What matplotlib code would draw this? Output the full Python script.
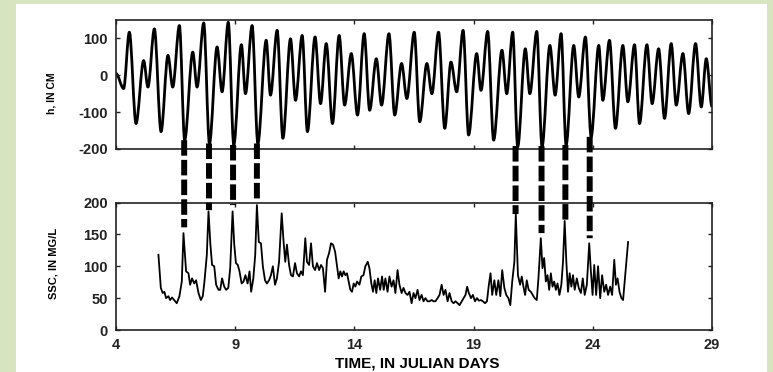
import matplotlib
matplotlib.use('Agg')
import matplotlib.pyplot as plt
from matplotlib.path import Path
from matplotlib.patches import PathPatch, Rectangle, ConnectionPatch

# Tidal height h (cm): successive high / low waters
tide_day = [4.00, 4.32, 4.56, 4.84, 5.16, 5.34, 5.61, 5.89, 6.18, 6.38, 6.66,
            6.88, 7.22, 7.40, 7.68, 7.92, 8.24, 8.45, 8.71, 8.94, 9.26,
            9.43, 9.71, 9.95, 10.30, 10.48, 10.76, 11.00, 11.32, 11.53, 11.81,
            12.03, 12.35, 12.58, 12.82, 13.08, 13.36, 13.59, 13.87, 14.13, 14.41,
            14.64, 14.92, 15.14, 15.45, 15.69, 15.98, 16.20, 16.51, 16.74, 17.04,
            17.25, 17.53, 17.79, 18.05, 18.29, 18.56, 18.79, 19.13, 19.31, 19.59,
            19.84, 20.19, 20.39, 20.64, 20.85, 21.17, 21.36, 21.65, 21.87, 22.20,
            22.42, 22.67, 22.88, 23.20, 23.41, 23.69, 23.93, 24.25, 24.42, 24.70,
            24.95, 25.26, 25.47, 25.75, 25.96, 26.27, 26.49, 26.76, 27.01, 27.29,
            27.50, 27.78, 28.02, 28.31, 28.55, 28.76, 29.00]
tide_h = [5, -36, 117, -131, 40, -32, 126, -153, 54, -32,
          135, -176, 63, -32, 142, -185, 77, -45, 144, -189,
          83, -50, 135, -185, 95, -54, 122, -171, 99, -68,
          108, -153, 104, -77, 86, -131, 108, -81, 59, -108,
          113, -95, 45, -81, 113, -108, 32, -63, 117, -126,
          32, -50, 117, -144, 36, -45, 122, -162, 59, -41,
          119, -176, 68, -50, 117, -194, 72, -50, 119, -194,
          81, -54, 113, -189, 81, -59, 104, -167, 81, -68,
          95, -144, 81, -72, 83, -131, 83, -77, 72, -117,
          86, -81, 59, -104, 86, -86, 45, -85]

# Suspended sediment concentration (mg/L)
ssc_day = [5.78, 5.88, 5.96, 6.03, 6.10, 6.20, 6.27, 6.35, 6.44, 6.55, 6.66, 6.76, 6.83,
           6.94, 7.04, 7.11, 7.19, 7.28, 7.36, 7.46, 7.56, 7.64, 7.71, 7.81, 7.88,
           7.96, 8.03, 8.12, 8.20, 8.30, 8.37, 8.45, 8.54, 8.62, 8.71, 8.79, 8.89,
           8.96, 9.03, 9.11, 9.18, 9.27, 9.35, 9.43, 9.52, 9.60, 9.67, 9.76, 9.84, 9.91,
           9.99, 10.08, 10.16, 10.25, 10.33, 10.42, 10.50, 10.58, 10.67, 10.75, 10.84, 10.95,
           11.03, 11.10, 11.17, 11.26, 11.34, 11.42, 11.51, 11.59, 11.68, 11.76, 11.84, 11.94,
           12.01, 12.10, 12.18, 12.26, 12.35, 12.43, 12.52, 12.60, 12.68, 12.77, 12.85, 12.94,
           13.02, 13.10, 13.19, 13.27, 13.34, 13.41, 13.48, 13.55, 13.62, 13.69, 13.76, 13.83,
           13.90, 13.97, 14.04, 14.11, 14.21, 14.29, 14.38, 14.46, 14.56, 14.63, 14.71, 14.78,
           14.85, 14.92, 14.99, 15.08, 15.16, 15.23, 15.30, 15.39, 15.47, 15.56, 15.64, 15.72,
           15.81, 15.89, 15.98, 16.06, 16.14, 16.23, 16.31, 16.40, 16.48, 16.56, 16.65, 16.73,
           16.82, 16.90, 16.98, 17.07, 17.15, 17.24, 17.32, 17.40, 17.49, 17.57, 17.66, 17.74,
           17.82, 17.91, 17.99, 18.08, 18.16, 18.24, 18.33, 18.41, 18.50, 18.58, 18.66, 18.73,
           18.80, 18.89, 18.97, 19.06, 19.14, 19.22, 19.31, 19.39, 19.48, 19.56, 19.64, 19.71,
           19.78, 19.87, 19.95, 20.04, 20.12, 20.20, 20.29, 20.37, 20.46, 20.54, 20.62, 20.71,
           20.77, 20.86, 20.95, 21.02, 21.09, 21.16, 21.23, 21.31, 21.40, 21.48, 21.56, 21.65,
           21.72, 21.82, 21.89, 21.96, 22.03, 22.10, 22.17, 22.24, 22.31, 22.38, 22.45, 22.52,
           22.60, 22.68, 22.75, 22.82, 22.89, 22.96, 23.03, 23.10, 23.17, 23.24, 23.33, 23.41,
           23.50, 23.58, 23.66, 23.75, 23.85, 23.92, 23.99, 24.06, 24.14, 24.22, 24.31, 24.39,
           24.48, 24.56, 24.64, 24.73, 24.81, 24.90, 24.97, 25.04, 25.12, 25.20, 25.27, 25.48]
ssc_val = [118, 66, 58, 60, 50, 53, 47, 51, 47, 42, 53, 76, 152,
           92, 89, 71, 81, 73, 78, 58, 47, 53, 76, 118, 186,
           134, 102, 100, 71, 63, 63, 81, 68, 63, 66, 97, 186,
           134, 105, 102, 92, 73, 76, 86, 73, 92, 60, 81, 118, 196,
           138, 136, 100, 78, 73, 78, 86, 100, 71, 81, 107, 183,
           138, 107, 134, 102, 86, 84, 105, 89, 84, 92, 86, 144,
           107, 102, 136, 100, 94, 105, 94, 102, 97, 60, 110, 121,
           136, 134, 123, 100, 81, 92, 84, 92, 86, 89, 76, 63,
           60, 73, 68, 76, 71, 84, 86, 100, 107, 97, 73, 60,
           78, 58, 81, 63, 84, 63, 81, 60, 84, 68, 78, 58,
           94, 71, 58, 66, 58, 55, 60, 42, 58, 50, 63, 47,
           55, 45, 50, 45, 45, 47, 45, 45, 50, 55, 71, 55,
           63, 45, 58, 45, 42, 45, 42, 39, 45, 50, 55, 68,
           58, 50, 55, 45, 50, 46, 47, 45, 42, 45, 71, 89,
           55, 78, 55, 78, 53, 94, 66, 55, 50, 39, 76, 107,
           182, 86, 71, 84, 68, 55, 78, 63, 60, 55, 50, 47,
           81, 144, 97, 113, 76, 86, 63, 89, 68, 76, 63, 73,
           55, 71, 107, 171, 107, 60, 89, 68, 86, 63, 81, 66,
           58, 81, 55, 71, 136, 92, 55, 102, 55, 100, 50, 86,
           60, 71, 55, 68, 55, 110, 71, 81, 60, 50, 47, 138]

# Dashed links: low water in top panel -> SSC peak in bottom panel
link_day = [6.86, 7.90, 8.91, 9.91, 20.76, 21.85, 22.85, 23.87]
link_h = [-176, -185, -189, -185, -192, -192, -189, -167]
link_ssc = [161, 188, 196, 200, 182, 152, 173, 144]

plt.rcParams['font.family'] = ['Liberation Sans', 'DejaVu Sans']
plt.rcParams['font.weight'] = 'bold'
plt.rcParams['axes.unicode_minus'] = False

W, H = 773, 372
fig = plt.figure(figsize=(W / 100, H / 100), dpi=100, facecolor='#d6e4c0')
fig.patches.append(Rectangle((16 / W, 0), 751 / W, 368 / H, transform=fig.transFigure,
                             facecolor='white', edgecolor='none', zorder=-10))

ax1 = fig.add_axes([116 / W, 223 / H, 596 / W, 129 / H])
ax2 = fig.add_axes([116 / W, 42 / H, 596 / W, 127.5 / H])

# smooth tide curve through the extremes (horizontal tangents at each high/low)
verts = [(tide_day[0], tide_h[0])]
codes = [Path.MOVETO]
for i in range(len(tide_day) - 1):
    d0, d1 = tide_day[i], tide_day[i + 1]
    h0, h1 = tide_h[i], tide_h[i + 1]
    dt = d1 - d0
    verts += [(d0 + dt / 3, h0), (d1 - dt / 3, h1), (d1, h1)]
    codes += [Path.CURVE4] * 3
ax1.add_patch(PathPatch(Path(verts, codes), fill=False, edgecolor='black',
                        lw=2.0, joinstyle='round'))

ax2.plot(ssc_day, ssc_val, color='black', lw=1.3)

ax1.set_xlim(4, 29)
ax1.set_ylim(-200, 150)
ax1.set_yticks([-200, -100, 0, 100])
ax1.set_xticks(range(4, 30, 5))
ax1.tick_params(labelbottom=False)

ax2.set_xlim(4, 29)
ax2.set_ylim(0, 200)
ax2.set_yticks(range(0, 201, 50))
ax2.set_xticks(range(4, 30, 5))

for ax in (ax1, ax2):
    ax.set_facecolor('none')
    ax.tick_params(direction='in', top=True, right=True, length=3, width=1,
                   labelsize=10.5, pad=6, colors='#222222')
    for s in ax.spines.values():
        s.set_linewidth(1.2)
        s.set_color('#222222')

fig.text(52 / W, 1 - 93 / H, 'h, IN CM', rotation=90, ha='center', va='center', fontsize=7.5)
fig.text(53 / W, 1 - 263 / H, 'SSC, IN MG/L', rotation=90, ha='center', va='center', fontsize=8)
fig.text(417 / W, 1 - 363 / H, 'TIME, IN JULIAN DAYS', ha='center', va='center', fontsize=11)

for d, h, c in zip(link_day, link_h, link_ssc):
    cp = ConnectionPatch(xyA=(d, h), coordsA='data', axesA=ax1,
                         xyB=(d, c), coordsB='data', axesB=ax2,
                         color='black', lw=4.3, linestyle=(0, (2.6, 0.7)),
                         capstyle='butt', zorder=5)
    fig.add_artist(cp)

fig.savefig('out.png', dpi=100, facecolor=fig.get_facecolor())
